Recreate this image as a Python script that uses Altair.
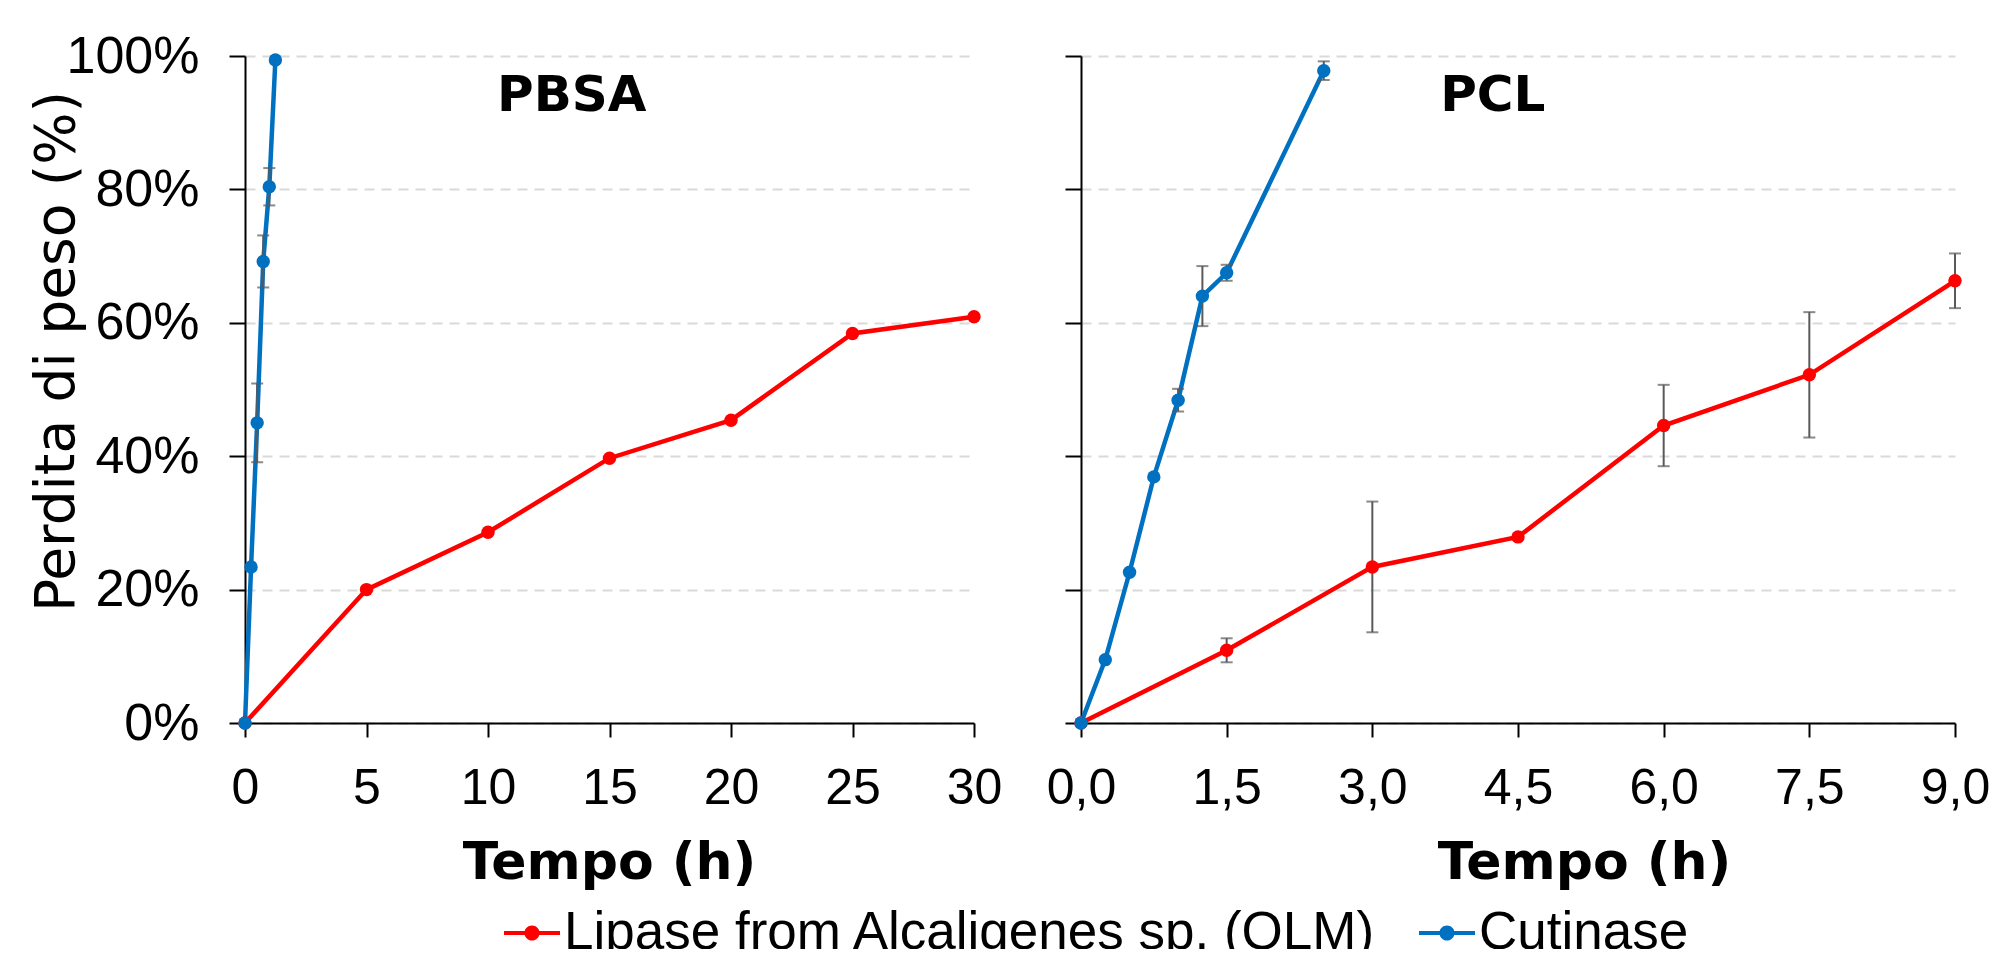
import altair as alt
import pandas as pd

LIP = "Lipase from Alcaligenes sp. (QLM)"
CUT = "Cutinase"
series_names = [LIP, CUT]
series_colors = ["#FF0000", "#0070C0"]

# PBSA panel
pbsa_lip_t = [0, 5, 10, 15, 20, 25, 30]
pbsa_lip_v = [0, 20.0, 28.6, 39.7, 45.4, 58.4, 60.9]
pbsa_lip_e = [0, 0, 0, 0, 0, 0, 0]
pbsa_cut_t = [0, 0.25, 0.5, 0.75, 1.0, 1.25]
pbsa_cut_v = [0, 23.4, 45.0, 69.2, 80.4, 99.4]
pbsa_cut_e = [0, 0, 5.9, 3.9, 2.8, 0]

# PCL panel
pcl_lip_t = [0, 1.5, 3.0, 4.5, 6.0, 7.5, 9.0]
pcl_lip_v = [0, 10.9, 23.4, 27.9, 44.6, 52.2, 66.3]
pcl_lip_e = [0, 1.8, 9.8, 0, 6.1, 9.4, 4.1]
pcl_cut_t = [0, 0.25, 0.5, 0.75, 1.0, 1.25, 1.5, 2.5]
pcl_cut_v = [0, 9.5, 22.6, 36.9, 48.4, 64.0, 67.5, 97.8]
pcl_cut_e = [0, 0, 0, 0, 1.7, 4.5, 1.2, 1.4]

pbsa_xticks = [0, 5, 10, 15, 20, 25, 30]
pcl_xticks = [0, 1.5, 3.0, 4.5, 6.0, 7.5, 9.0]
y_ticks = [0, 20, 40, 60, 80, 100]

panel_labels = ["PBSA", "PCL"]
panel_label_t = [13.45, 4.24]
panel_label_v = [91.8, 91.8]


def frame(series, t, v, e):
    return pd.DataFrame({"series": series, "t": t, "v": v, "e": e})


df_pbsa = pd.concat([frame(LIP, pbsa_lip_t, pbsa_lip_v, pbsa_lip_e),
                     frame(CUT, pbsa_cut_t, pbsa_cut_v, pbsa_cut_e)])
df_pcl = pd.concat([frame(LIP, pcl_lip_t, pcl_lip_v, pcl_lip_e),
                    frame(CUT, pcl_cut_t, pcl_cut_v, pcl_cut_e)])

legend_path = ("M-1,-0.07L1,-0.07L1,0.07L-1,0.07Z "
               "M0.27,0A0.27,0.27 0 1,1 -0.27,0A0.27,0.27 0 1,1 0.27,0Z")

color_scale = alt.Scale(domain=series_names, range=series_colors)
legend = alt.Legend(
    title=None, orient="none", direction="horizontal",
    legendX=259, legendY=849,
    symbolType=legend_path, symbolSize=3136, symbolStrokeWidth=0,
    labelFont="Liberation Sans", labelFontSize=53, labelColor="black",
    labelOffset=4, columnPadding=42, labelLimit=1200, padding=0,
)


def panel(df, xdom, xticks, label_expr, left, width, label_idx, xtitle_x):
    x_axis = alt.Axis(
        values=xticks, labelExpr=label_expr, title="Tempo (h)",
        tickSize=14, labelPadding=26, grid=False, labelFlush=False,
        titleX=xtitle_x, titleY=155, titleBaseline="alphabetic",
        titleAlign="center", titleAnchor="middle",
    )
    if left:
        y_axis = alt.Axis(
            values=y_ticks, labelExpr="datum.value + '%'",
            title="Perdita di peso (%)", tickSize=16, labelPadding=30,
            labelFontSize=52,
            titleX=-172, titleY=295, titleAngle=270,
            titleBaseline="alphabetic", titleAlign="center",
            titleFontWeight="normal", titleFontSize=55,
        )
    else:
        y_axis = alt.Axis(values=y_ticks, labels=False, title=None, tickSize=16)

    xs = alt.Scale(domain=xdom, nice=False, zero=False)
    ys = alt.Scale(domain=[0, 100], nice=False)
    x = alt.X("t:Q", scale=xs, axis=x_axis)
    y = alt.Y("v:Q", scale=ys, axis=y_axis)

    base = alt.Chart(df)
    line = base.mark_line(strokeWidth=4.5).encode(
        x=x, y=y, color=alt.Color("series:N", scale=color_scale, legend=legend),
        detail="series:N")
    err = base.transform_filter("datum.e > 0").transform_calculate(
        lo="datum.v - datum.e", hi="datum.v + datum.e"
    ).mark_errorbar(ticks=True, size=12, thickness=2, color="#595959",
                    orient="vertical").encode(
        x=alt.X("t:Q", scale=xs, axis=x_axis),
        y=alt.Y("lo:Q", scale=ys, axis=y_axis),
        y2="hi:Q")
    pts = base.mark_point(filled=True, size=180, opacity=1).encode(
        x=x, y=y, color=alt.Color("series:N", scale=color_scale, legend=legend))
    lab_df = pd.DataFrame({"t": [panel_label_t[label_idx]],
                           "v": [panel_label_v[label_idx]],
                           "label": [panel_labels[label_idx]]})
    lab = alt.Chart(lab_df).mark_text(
        font="DejaVu Sans", fontSize=50, fontWeight="bold", color="black",
        align="center", baseline="alphabetic").encode(
        x=alt.X("t:Q", scale=xs, axis=x_axis),
        y=alt.Y("v:Q", scale=ys, axis=y_axis), text="label:N")
    return alt.layer(line, err, pts, lab).properties(width=width, height=667)


comma_expr = "replace(format(datum.value, '.1f'), '.', ',')"
left_chart = panel(df_pbsa, [0, 30], pbsa_xticks, "format(datum.value, 'd')",
                   True, 729, 0, 364)
right_chart = panel(df_pcl, [0, 9], pcl_xticks, comma_expr,
                    False, 874, 1, 503)

chart = alt.hconcat(left_chart, right_chart, spacing=44).resolve_scale(
    color="shared").resolve_legend(color="shared").properties(
    padding={"left": 20, "top": 22, "right": 0, "bottom": -11}
).configure_view(stroke=None).configure_axis(
    domainColor="black", domainWidth=2, tickColor="black", tickWidth=2,
    labelFont="Liberation Sans", labelFontSize=50, labelColor="black",
    titleFont="DejaVu Sans", titleFontSize=52, titleColor="black",
    titleFontWeight="bold",
    gridColor="#d9d9d9", gridDash=[10, 7], gridWidth=2,
).configure_axisY(grid=True)

chart.save("out.html", embed_options={"renderer": "svg", "actions": False})
